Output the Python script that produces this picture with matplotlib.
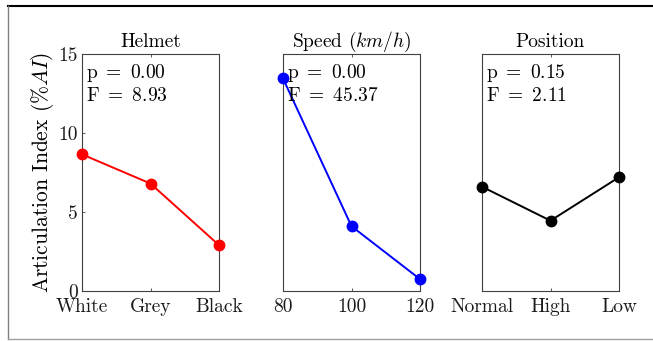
import matplotlib
matplotlib.use("Agg")
import matplotlib.pyplot as plt
from matplotlib.lines import Line2D

plt.rcParams['font.family'] = 'serif'
plt.rcParams['font.serif'] = ['cmr10']
plt.rcParams['mathtext.fontset'] = 'cm'
plt.rcParams['axes.formatter.use_mathtext'] = True

titles = ['Helmet', r'Speed ($km/h$)', 'Position']
categories = [['White', 'Grey', 'Black'], ['80', '100', '120'], ['Normal', 'High', 'Low']]
values = [[8.65, 6.8, 2.9], [13.45, 4.1, 0.75], [6.6, 4.45, 7.2]]
p_vals = ['0.00', '0.00', '0.15']
f_vals = ['8.93', '45.37', '2.11']
colors = ['#ff0000', '#0000ff', '#000000']

fig = plt.figure(figsize=(6.53, 3.41), dpi=100)
W, H = 653, 341
lefts = [82, 283, 482]
width = 137
bottom_px, top_px = 291, 54

edge = '#404040'
for i in range(3):
    ax = fig.add_axes([lefts[i] / W, 1 - bottom_px / H, width / W, (bottom_px - top_px) / H])
    x = list(range(len(categories[i])))
    ax.plot(x, values[i], '-o', color=colors[i], lw=1.4, ms=7.5, clip_on=False, zorder=3)
    ax.set_xlim(0, 2)
    ax.set_ylim(0, 15)
    ax.set_xticks(x)
    ax.set_xticklabels(categories[i], fontsize=14)
    ax.tick_params(direction='in', top=True, right=False, length=2, width=0.6,
                   colors=edge, labelcolor='#1a1a1a', pad=5)
    ax.tick_params(axis='y', pad=3)
    if i == 0:
        ax.set_yticks([0, 5, 10, 15])
        ax.set_yticklabels(['0', '5', '10', '15'], fontsize=14)
        ax.set_ylabel(r'Articulation Index ($\%AI$)', fontsize=15.5, labelpad=2)
    else:
        ax.set_yticks([])
    for s in ax.spines.values():
        s.set_color(edge)
        s.set_linewidth(0.8)
    ax.set_title(titles[i], fontsize=14, pad=5)
    ax.text(0.03, 0.965, r'$\mathrm{p}\ =\ ' + p_vals[i] + r'$' + '\n' + r'$\mathrm{F}\ =\ ' + f_vals[i] + r'$',
            transform=ax.transAxes, ha='left', va='top', fontsize=14, linespacing=1.2, zorder=4)

fig.add_artist(Line2D([8 / W, 1], [1 - 6 / H, 1 - 6 / H], color='black', lw=1.5, transform=fig.transFigure))
fig.add_artist(Line2D([7.5 / W, 7.5 / W], [1 - 6 / H, 1 - 339 / H], color='#808080', lw=1.0, transform=fig.transFigure))
fig.add_artist(Line2D([7.5 / W, 1], [1 - 339 / H, 1 - 339 / H], color='#a0a0a0', lw=1.0, transform=fig.transFigure))

fig.savefig('out.png', dpi=100)
